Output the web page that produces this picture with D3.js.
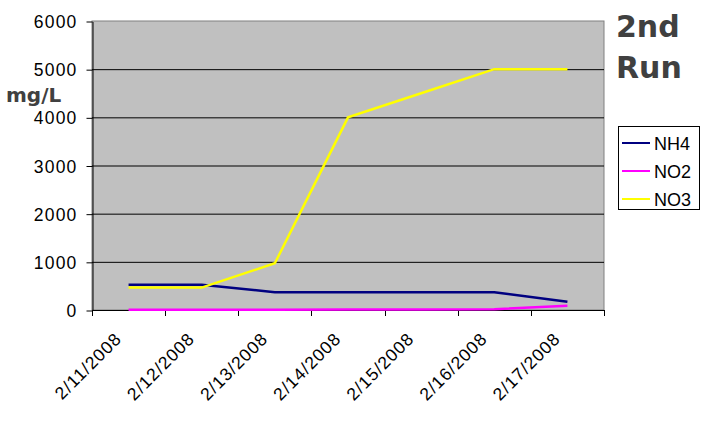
<!DOCTYPE html>
<html>
<head>
<meta charset="utf-8">
<script src="https://cdn.jsdelivr.net/npm/d3@7"></script>
<style>
  body { margin: 0; background: #fff; }
</style>
</head>
<body>
<div id="chart"></div>
<script>
const dates = ['2/11/2008', '2/12/2008', '2/13/2008', '2/14/2008', '2/15/2008', '2/16/2008', '2/17/2008']
const nh4 = [525, 525, 370, 370, 370, 370, 170]
const no2 = [5, 5, 5, 10, 10, 15, 90]
const no3 = [465, 465, 970, 4000, 4500, 5000, 5000]
const yTicks = [0, 1000, 2000, 3000, 4000, 5000, 6000]

const series = [
  { name: 'NH4', values: nh4, color: '#000080' },
  { name: 'NO2', values: no2, color: '#ff00ff' },
  { name: 'NO3', values: no3, color: '#ffff00' }
]

const sans = "'Liberation Sans', Arial, sans-serif"
const boldSans = "'DejaVu Sans', Verdana, sans-serif"

drawChart()

function drawChart () {
  const width = 701
  const height = 421
  const plot = { left: 92, right: 604, top: 21, bottom: 310 }

  const svg = d3.select('#chart')
    .append('svg')
    .attr('width', width)
    .attr('height', height)
    .style('font-family', sans)

  const x = d3.scaleBand()
    .domain(dates)
    .range([plot.left, plot.right])

  const y = d3.scaleLinear()
    .domain([0, 6000])
    .range([plot.bottom, plot.top])

  // plot area
  svg.append('rect')
    .attr('x', plot.left)
    .attr('y', plot.top)
    .attr('width', plot.right - plot.left)
    .attr('height', plot.bottom - plot.top)
    .attr('fill', '#c0c0c0')
    .attr('stroke', '#808080')

  svg.append('g')
    .selectAll('line')
    .data(yTicks.filter(d => d > 0 && d < 6000))
    .join('line')
    .attr('x1', plot.left)
    .attr('x2', plot.right)
    .attr('y1', d => y(d) + 0.5)
    .attr('y2', d => y(d) + 0.5)
    .attr('stroke', '#000')

  // axes
  const yAxis = d3.axisLeft(y)
    .tickValues(yTicks)
    .tickFormat(d3.format('d'))
    .tickSizeOuter(0)
    .tickSizeInner(6)
    .tickPadding(9)

  const yg = svg.append('g')
    .attr('transform', `translate(${plot.left + 0.5},0.5)`)
    .call(yAxis)
    .attr('font-family', null)
    .attr('font-size', null)
  yg.select('.domain').attr('stroke', '#000')
  yg.selectAll('text')
    .style('font-size', '17.5px')
    .attr('letter-spacing', 1.2)
    .attr('fill', '#000')
    .attr('dy', 6)

  const boundaries = dates.map(d => x(d)).concat([plot.right])
  const xg = svg.append('g')
  xg.append('line')
    .attr('x1', plot.left)
    .attr('x2', plot.right + 1)
    .attr('y1', plot.bottom + 0.5)
    .attr('y2', plot.bottom + 0.5)
    .attr('stroke', '#000')
  xg.selectAll('.tick')
    .data(boundaries)
    .join('line')
    .attr('class', 'tick')
    .attr('x1', d => Math.round(d) + 0.5)
    .attr('x2', d => Math.round(d) + 0.5)
    .attr('y1', plot.bottom)
    .attr('y2', plot.bottom + 6)
    .attr('stroke', '#000')
  xg.selectAll('text')
    .data(dates)
    .join('text')
    .attr('transform', d => `translate(${x(d) + x.bandwidth() / 2 - 6},340) rotate(-45)`)
    .attr('text-anchor', 'end')
    .style('font-size', '17.5px')
    .attr('letter-spacing', 1)
    .text(d => d)

  // lines
  const line = d3.line()
    .x((d, i) => x(dates[i]) + x.bandwidth() / 2)
    .y(d => y(d))

  svg.append('g')
    .selectAll('path')
    .data(series)
    .join('path')
    .attr('d', d => line(d.values))
    .attr('fill', 'none')
    .attr('stroke', d => d.color)
    .attr('stroke-width', 2.5)

  // legend
  const legend = svg.append('g')
  legend.append('rect')
    .attr('x', 618.5)
    .attr('y', 126.5)
    .attr('width', 81)
    .attr('height', 83)
    .attr('fill', '#fff')
    .attr('stroke', '#000')

  const item = legend.selectAll('.item')
    .data(series)
    .join('g')
    .attr('class', 'item')
    .attr('transform', (d, i) => `translate(0,${143 + i * 28})`)
  item.append('line')
    .attr('x1', 622)
    .attr('x2', 650)
    .attr('stroke', d => d.color)
    .attr('stroke-width', 2)
  item.append('text')
    .attr('x', 654)
    .attr('y', 6.5)
    .style('font-size', '18px')
    .text(d => d.name)

  // titles
  const title = svg.append('text')
    .style('font-family', boldSans)
    .style('font-weight', 'bold')
    .style('font-size', '30px')
    .attr('fill', '#404040')
  title.append('tspan').attr('x', 616).attr('y', 37).text('2nd')
  title.append('tspan').attr('x', 616).attr('y', 78).text('Run')

  svg.append('text')
    .attr('x', 6)
    .attr('y', 102)
    .style('font-family', boldSans)
    .style('font-weight', 'bold')
    .style('font-size', '20px')
    .attr('fill', '#404040')
    .text('mg/L')
}
</script>
</body>
</html>
